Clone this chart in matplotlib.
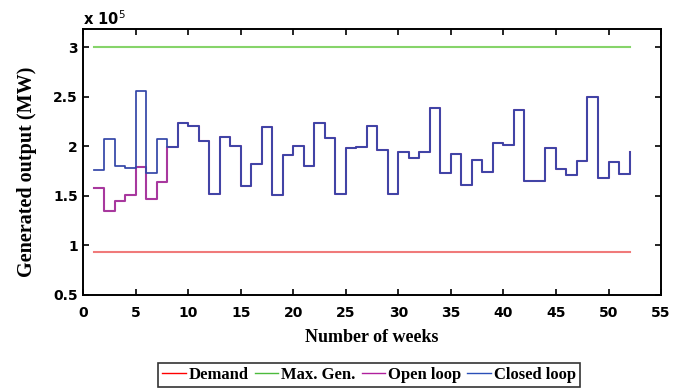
import numpy as np
import matplotlib
matplotlib.use("Agg")
import matplotlib.pyplot as plt
from matplotlib.lines import Line2D

# weekly generated output, MW
weeks = list(range(1, 53))
closed_loop = [176000, 207000, 180000, 178000, 256000, 173000, 207000, 199000,
               223000, 220000, 205000, 152000, 209000, 200000, 160000, 182000,
               219000, 151000, 191000, 200000, 180000, 223000, 208000, 152000,
               198000, 199000, 220000, 196000, 152000, 194000, 188000, 194000,
               239000, 173000, 192000, 161000, 186000, 174000, 203000, 201000,
               237000, 165000, 165000, 198000, 177000, 171000, 185000, 250000,
               168000, 184000, 172000, 194000]
# open loop differs only in the first weeks, then follows the closed loop
open_loop_start = [158000, 135000, 145000, 151000, 179000, 147000, 164000]
open_loop = open_loop_start + closed_loop[len(open_loop_start):]
demand_level = 93500
max_gen_level = 300000

SCALE = 1e5

serif = ["Liberation Serif", "DejaVu Serif"]

fig = plt.figure(figsize=(6.85, 3.88), dpi=100)
ax = fig.add_axes([0.1216, 0.2397, 0.8434, 0.6848])

x = np.array(weeks)
ax.plot(x, np.full(len(x), demand_level) / SCALE, color="#f07a7a", lw=1.5, label="Demand")
ax.plot(x, np.full(len(x), max_gen_level) / SCALE, color="#86d46a", lw=1.5, label="Max. Gen.")
ax.step(x, np.array(open_loop) / SCALE, where="post", color="#a8389e", lw=1.5, label="Open loop")
ax.step(x, np.array(closed_loop) / SCALE, where="post", color="#3346a8", lw=1.25, label="Closed loop")

ax.set_xlim(0, 55)
ax.set_ylim(0.5, 3.18)
ax.set_xticks(np.arange(0, 56, 5))
ax.set_yticks([0.5, 1, 1.5, 2, 2.5, 3])
ax.set_yticklabels(["0.5", "1", "1.5", "2", "2.5", "3"])
ax.tick_params(direction="in", length=4, width=1.2, top=True, right=True, labelsize=10)
ax.tick_params(axis="x", pad=8)
ax.tick_params(axis="y", pad=4)
for lab in ax.get_xticklabels() + ax.get_yticklabels():
    lab.set_fontweight("bold")
for sp in ax.spines.values():
    sp.set_linewidth(1.4)

ax.text(0, 1.005, "x 10$^5$", transform=ax.transAxes, ha="left", va="bottom",
        fontsize=10.5, fontweight="bold")

ax.set_xlabel("Number of weeks", family=serif, fontweight="bold", fontsize=13)
ax.set_ylabel("Generated output (MW)", family=serif, fontweight="bold", fontsize=14.5)
ax.xaxis.set_label_coords(0.5, -0.128)
ax.yaxis.set_label_coords(-0.08, 0.463)

# legend handles in pure colours like the original
handles = [Line2D([], [], color=c, lw=1) for c in ["red", "#4cbb3c", "#b0209e", "#2a50b8"]]
labels = ["Demand", "Max. Gen.", "Open loop", "Closed loop"]
leg = fig.legend(handles, labels, loc="lower center", bbox_to_anchor=(0.5387, 0.0),
                 ncol=4, frameon=True, fancybox=False, edgecolor="black",
                 prop={"family": serif, "weight": "bold", "size": 12},
                 handlelength=1.4, handletextpad=0.2, columnspacing=0.35,
                 borderpad=0.25, borderaxespad=0.05)
leg.get_frame().set_linewidth(1.2)

fig.savefig("out.png", dpi=100)
